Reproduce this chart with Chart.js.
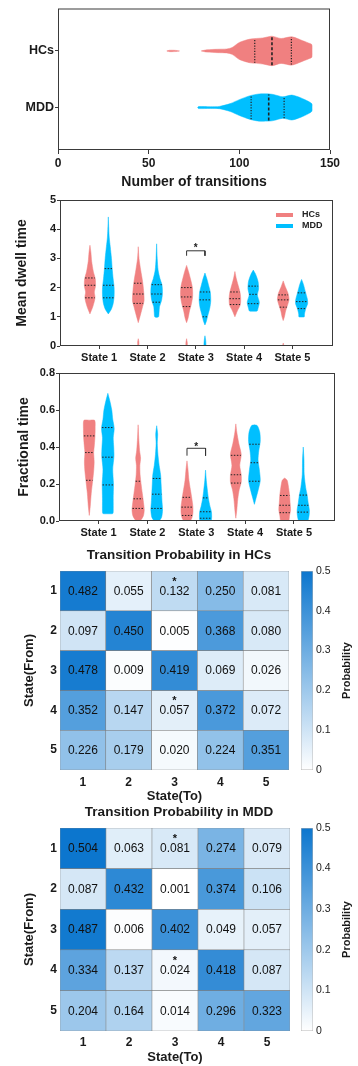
<!DOCTYPE html>
<html>
<head>
<meta charset="utf-8">
<script src="https://cdn.jsdelivr.net/npm/chart.js@4.4.1/dist/chart.umd.min.js"></script>
<style>
    html, body { margin: 0; padding: 0; background: #fff; }
    #wrap { position: relative; width: 358px; height: 1066px; overflow: hidden; }
    canvas { position: absolute; left: 0; }
</style>
</head>
<body>
<div id="wrap">
    <canvas id="transChart" width="358" height="196" style="top:0px"></canvas>
    <canvas id="dwellChart" width="358" height="180" style="top:190px"></canvas>
    <canvas id="fracChart" width="358" height="180" style="top:365px"></canvas>
    <canvas id="hcMap" width="358" height="266" style="top:540px"></canvas>
    <canvas id="hcBar" width="68" height="266" style="top:540px;left:290px"></canvas>
    <canvas id="mddMap" width="358" height="269" style="top:797px"></canvas>
    <canvas id="mddBar" width="68" height="269" style="top:797px;left:290px"></canvas>
</div>
<script>
// ---- data ----
const groupNames = ['HCs', 'MDD'];
const groupColors = ['#F08080', '#00BFFF'];
const stateLabels = ['State 1', 'State 2', 'State 3', 'State 4', 'State 5'];
const stateTicks = [1, 2, 3, 4, 5];

// violin outlines: [value, half width]
const transHC = [[79,0],[82,0.02],[88,0.03],[93,0.035],[96,0.06],[100,0.15],[106,0.21],[113,0.23],[118,0.26],[123,0.22],[129,0.25],[135,0.18],[139,0.13],[140,0.11],[140.1,0]];
const transHCTail = [[60,0],[61.5,0.012],[65,0.01],[67,0]];
const transMDD = [[77,0],[77.5,0.018],[84,0.015],[89,0.02],[95,0.07],[100,0.14],[106,0.21],[111,0.24],[118,0.235],[124,0.19],[129,0.22],[134,0.17],[138,0.11],[140,0.065],[140.1,0]];
const transQuartHC = [108.5, 118, 128.7];
const transQuartMDD = [106.5, 116.2, 124.7];

const dwellHC = [
    [[3.45,0],[3.2,0.02],[2.9,0.035],[2.55,0.07],[2.3,0.11],[2.05,0.115],[1.85,0.09],[1.65,0.105],[1.35,0.06],[1.1,0]],
    [[3.4,0],[3.0,0.015],[2.6,0.05],[2.2,0.09],[1.9,0.11],[1.55,0.12],[1.35,0.09],[1.1,0.05],[0.8,0]],
    [[2.76,0],[2.55,0.04],[2.3,0.08],[2.0,0.12],[1.7,0.125],[1.45,0.1],[1.2,0.06],[0.95,0.03],[0.8,0]],
    [[2.55,0],[2.3,0.03],[2.0,0.08],[1.8,0.11],[1.6,0.12],[1.4,0.11],[1.2,0.05],[1.0,0]],
    [[2.23,0],[2.0,0.05],[1.8,0.1],[1.6,0.12],[1.4,0.09],[1.2,0.05],[1.0,0.025],[0.87,0]]
];
const dwellMDD = [
    [[4.42,0],[4.0,0.01],[3.7,0.02],[3.4,0.04],[3.0,0.065],[2.65,0.08],[2.3,0.1],[2.0,0.12],[1.7,0.12],[1.45,0.1],[1.25,0.06],[1.1,0]],
    [[3.5,0],[3.0,0.012],[2.6,0.03],[2.3,0.07],[2.1,0.11],[1.8,0.12],[1.55,0.1],[1.35,0.06],[1.15,0.05],[1.0,0.04],[0.98,0]],
    [[2.5,0],[2.3,0.04],[2.05,0.08],[1.85,0.11],[1.55,0.12],[1.3,0.1],[1.05,0.06],[0.85,0.03],[0.72,0]],
    [[2.6,0],[2.45,0.05],[2.2,0.1],[1.95,0.11],[1.75,0.085],[1.5,0.125],[1.3,0.1],[1.2,0.08],[1.19,0]],
    [[2.28,0],[2.1,0.04],[1.85,0.08],[1.6,0.12],[1.45,0.125],[1.3,0.09],[1.1,0.06],[1.0,0.055],[0.99,0]]
];
const dwellQuartHC = [[2.33,2.08,1.65],[2.15,1.78,1.46],[2.0,1.68,1.35],[1.85,1.62,1.42],[1.75,1.58,1.33]];
const dwellQuartMDD = [[2.65,2.08,1.65],[2.1,1.78,1.5],[1.85,1.58,1.0],[2.05,1.77,1.45],[1.82,1.52,1.28]];
// detached bits: [group, state, outline]
const dwellTails = [
    [0, 2, [[0.25,0],[0.15,0.012],[0.02,0.012],[-0.02,0]]],
    [0, 3, [[0.25,0],[0.12,0.014],[0.0,0.014],[-0.02,0]]],
    [1, 3, [[0.35,0],[0.2,0.015],[0.0,0.02],[-0.02,0]]],
    [0, 5, [[0.1,0],[0.05,0.008],[0.0,0.008],[-0.02,0]]]
];
const dwellSig = [3, 3.26, 3.09, 3.42]; // state, bracket top, bracket foot, star

const fracHC = [
    [[0.545,0],[0.544,0.11],[0.5,0.12],[0.45,0.115],[0.4,0.1],[0.37,0.09],[0.32,0.1],[0.27,0.09],[0.22,0.07],[0.15,0.04],[0.08,0.02],[0.03,0]],
    [[0.52,0],[0.45,0.012],[0.38,0.03],[0.34,0.05],[0.3,0.035],[0.25,0.04],[0.2,0.06],[0.15,0.085],[0.1,0.11],[0.06,0.125],[0.03,0.11],[0.01,0.07],[-0.01,0]],
    [[0.325,0],[0.28,0.02],[0.22,0.04],[0.17,0.07],[0.12,0.1],[0.08,0.12],[0.04,0.12],[0.01,0.09],[-0.01,0]],
    [[0.525,0],[0.48,0.02],[0.42,0.06],[0.36,0.11],[0.3,0.08],[0.25,0.11],[0.21,0.11],[0.17,0.07],[0.12,0.04],[0.06,0.02],[0.015,0]],
    [[0.232,0],[0.22,0.05],[0.18,0.08],[0.14,0.1],[0.1,0.11],[0.06,0.12],[0.03,0.1],[0.0,0.08],[-0.01,0]]
];
const fracMDD = [
    [[0.69,0],[0.65,0.04],[0.6,0.08],[0.55,0.1],[0.5,0.13],[0.45,0.11],[0.4,0.12],[0.35,0.125],[0.28,0.1],[0.2,0.115],[0.12,0.11],[0.05,0.11],[0.04,0.1],[0.039,0]],
    [[0.515,0],[0.47,0.02],[0.42,0.012],[0.36,0.025],[0.3,0.05],[0.25,0.08],[0.2,0.09],[0.15,0.1],[0.1,0.11],[0.06,0.12],[0.02,0.1],[0,0.05],[-0.01,0]],
    [[0.275,0],[0.22,0.015],[0.16,0.04],[0.12,0.06],[0.08,0.09],[0.05,0.12],[0.02,0.125],[0,0.11],[-0.01,0]],
    [[0.52,0],[0.515,0.06],[0.48,0.11],[0.43,0.12],[0.38,0.09],[0.33,0.075],[0.28,0.1],[0.22,0.12],[0.18,0.09],[0.13,0.04],[0.09,0]],
    [[0.4,0],[0.33,0.015],[0.25,0.02],[0.18,0.05],[0.14,0.08],[0.1,0.1],[0.06,0.125],[0.03,0.12],[0,0.09],[-0.01,0]]
];
const fracQuartHC = [[0.46,0.37,0.22],[0.215,0.12,0.068],[0.128,0.075,0.03],[0.355,0.25,0.205],[0.138,0.085,0.045]];
const fracQuartMDD = [[0.505,0.345,0.195],[0.23,0.145,0.068],[0.125,0.05,0.015],[0.415,0.315,0.215],[0.14,0.085,0.048]];
const fracSig = [3, 0.393, 0.353, 0.41];

const mapLabels = ['1', '2', '3', '4', '5'];
const hcProb = [
    [0.482, 0.055, 0.132, 0.250, 0.081],
    [0.097, 0.450, 0.005, 0.368, 0.080],
    [0.478, 0.009, 0.419, 0.069, 0.026],
    [0.352, 0.147, 0.057, 0.372, 0.072],
    [0.226, 0.179, 0.020, 0.224, 0.351]
];
const mddProb = [
    [0.504, 0.063, 0.081, 0.274, 0.079],
    [0.087, 0.432, 0.001, 0.374, 0.106],
    [0.487, 0.006, 0.402, 0.049, 0.057],
    [0.334, 0.137, 0.024, 0.418, 0.087],
    [0.204, 0.164, 0.014, 0.296, 0.323]
];
const sigCells = [[1, 3], [4, 3]]; // [from, to]
const colorTicks = [0, 0.1, 0.2, 0.3, 0.4, 0.5];

// ---- helpers ----
const groupOffsets = [-0.19, 0.19];
const fontFamily = "'Liberation Sans', Arial, sans-serif";
const lowColor = [255, 255, 255];
const highColor = [12, 118, 206];

Chart.defaults.font.family = fontFamily;
Chart.defaults.color = '#1a1a1a';
Chart.defaults.animation = false;
Chart.defaults.plugins.legend.display = false;
Chart.defaults.plugins.tooltip.enabled = false;

function widthAt(prof, q) {
    for (let i = 0; i < prof.length - 1; i++) {
        const [v0, w0] = prof[i];
        const [v1, w1] = prof[i + 1];
        if (v0 !== v1 && (q - v0) * (q - v1) <= 0) {
            return w0 + (w1 - w0) * (q - v0) / (v1 - v0);
        }
    }
    return 0;
}

function outline(center, prof, horizontal) {
    const sideA = prof.map(([v, w]) => horizontal ? {x: v, y: center + w} : {x: center - w, y: v});
    const sideB = prof.slice().reverse().map(([v, w]) => horizontal ? {x: v, y: center - w} : {x: center + w, y: v});
    return sideA.concat(sideB);
}

function violinSet(points, color) {
    return {
        data: points,
        borderColor: color,
        backgroundColor: color,
        borderWidth: 0.5,
        fill: 'shape',
        pointRadius: 0,
        tension: 0.25,
        order: 2
    };
}

function lineSet(points, dash, width, color) {
    return {
        data: points,
        borderColor: color || '#222',
        borderWidth: width || 1,
        borderDash: dash,
        fill: false,
        pointRadius: 0,
        tension: 0,
        order: 1
    };
}

function buildVertical(profHC, profMDD, quartHC, quartMDD, tails, sig) {
    const sets = [];
    [profHC, profMDD].forEach((profiles, g) => {
        const quarts = g === 0 ? quartHC : quartMDD;
        profiles.forEach((prof, i) => {
            const c = stateTicks[i] + groupOffsets[g];
            sets.push(violinSet(outline(c, prof, false), groupColors[g]));
            quarts[i].forEach(q => {
                const w = widthAt(prof, q) * 0.95;
                sets.push(lineSet([{x: c - w, y: q}, {x: c + w, y: q}], [1.5, 1.5], 1));
            });
        });
    });
    tails.forEach(([g, s, prof]) => {
        sets.push(violinSet(outline(stateTicks[s - 1] + groupOffsets[g], prof, false), groupColors[g]));
    });
    const [s, top, foot] = sig;
    const x1 = s + groupOffsets[0], x2 = s + groupOffsets[1];
    sets.push(lineSet([{x: x1, y: foot}, {x: x1, y: top}, {x: x2, y: top}, {x: x2, y: foot}], [], 1, '#333'));
    return sets;
}

function probColor(v) {
    const t = Math.max(0, Math.min(1, v / 0.5));
    const c = lowColor.map((lo, i) => Math.round(lo + (highColor[i] - lo) * t));
    return `rgb(${c[0]}, ${c[1]}, ${c[2]})`;
}

// box around the plot area
const framePlugin = {
    id: 'frame',
    afterDraw(chart) {
        const {ctx, chartArea: a} = chart;
        ctx.save();
        ctx.strokeStyle = '#3a3a3a';
        ctx.lineWidth = 1;
        ctx.strokeRect(a.left + 0.5, a.top + 0.5, a.right - a.left - 1, a.bottom - a.top - 1);
        ctx.restore();
    }
};

function starPlugin(sig) {
    return {
        id: 'star',
        afterDatasetsDraw(chart) {
            const {ctx, scales} = chart;
            ctx.save();
            ctx.fillStyle = '#222';
            ctx.font = `bold 10px ${fontFamily}`;
            ctx.textAlign = 'center';
            ctx.textBaseline = 'middle';
            ctx.fillText('*', scales.x.getPixelForValue(sig[0]), scales.y.getPixelForValue(sig[3]) + 2);
            ctx.restore();
        }
    };
}

const legendPlugin = {
    id: 'miniLegend',
    afterDraw(chart) {
        const {ctx, chartArea: a} = chart;
        ctx.save();
        ctx.font = `bold 9px ${fontFamily}`;
        ctx.textBaseline = 'middle';
        groupNames.forEach((name, g) => {
            const y = a.top + 15 + g * 11;
            ctx.strokeStyle = groupColors[g];
            ctx.lineWidth = 4;
            ctx.beginPath();
            ctx.moveTo(a.right - 57, y);
            ctx.lineTo(a.right - 40, y);
            ctx.stroke();
            ctx.fillStyle = '#222';
            ctx.fillText(name, a.right - 31, y);
        });
        ctx.restore();
    }
};

function violinOptions(yMin, yMax, yStep, yTitle, yFmt, top, right, left, titlePad) {
    return {
        responsive: false,
        devicePixelRatio: 1,
        layout: { padding: { top: top, right: right, left: 0, bottom: 0 } },
        scales: {
            x: {
                type: 'linear',
                min: 0.19,
                max: 5.84,
                afterBuildTicks: axis => { axis.ticks = stateTicks.map(v => ({ value: v })); },
                afterFit: scale => { scale.height = 24; },
                ticks: {
                    callback: v => stateLabels[v - 1],
                    font: { size: 11, weight: 'bold' },
                    color: '#1a1a1a',
                    maxRotation: 0,
                    autoSkip: false,
                    padding: 2
                },
                grid: { drawOnChartArea: false, tickLength: 3, color: '#3a3a3a' },
                border: { display: false }
            },
            y: {
                min: yMin,
                max: yMax,
                afterFit: scale => { scale.width = left; },
                ticks: {
                    stepSize: yStep,
                    callback: yFmt,
                    font: { size: 11, weight: 'bold' },
                    color: '#1a1a1a',
                    padding: 1
                },
                grid: { drawOnChartArea: false, tickLength: 3, color: '#3a3a3a' },
                border: { display: false },
                title: {
                    display: true,
                    text: yTitle,
                    font: { size: 14, weight: 'bold' },
                    color: '#1a1a1a',
                    padding: { top: titlePad, bottom: 0 }
                }
            }
        }
    };
}

// ---- number of transitions ----
function buildTransitions() {
    const sets = [];
    [[transHC, transQuartHC], [transMDD, transQuartMDD]].forEach(([prof, quarts], g) => {
        const c = 2 - g;
        sets.push(violinSet(outline(c, prof, true), groupColors[g]));
        quarts.forEach((q, k) => {
            const w = widthAt(prof, q) * 0.97;
            const median = k === 1;
            sets.push(lineSet([{x: q, y: c - w}, {x: q, y: c + w}], median ? [3, 2] : [1.2, 1.5], median ? 1.6 : 1.2, '#222'));
        });
    });
    sets.push(violinSet(outline(2, transHCTail, true), groupColors[0]));
    return sets;
}

new Chart(document.getElementById('transChart'), {
    type: 'line',
    data: { datasets: buildTransitions() },
    options: {
        responsive: false,
        devicePixelRatio: 1,
        layout: { padding: { top: 5, right: 28, left: 0, bottom: 0 } },
        scales: {
            x: {
                type: 'linear',
                min: 0,
                max: 150,
                afterFit: scale => { scale.height = 46; },
                ticks: { stepSize: 50, font: { size: 12, weight: 'bold' }, color: '#1a1a1a', padding: 2, maxRotation: 0 },
                grid: { drawOnChartArea: false, tickLength: 4, color: '#3a3a3a' },
                border: { display: false },
                title: {
                    display: true,
                    text: 'Number of transitions',
                    font: { size: 14, weight: 'bold' },
                    color: '#1a1a1a',
                    padding: { top: 0, bottom: 5 }
                }
            },
            y: {
                type: 'linear',
                min: 0.25,
                max: 2.75,
                afterBuildTicks: axis => { axis.ticks = [1, 2].map(v => ({ value: v })); },
                afterFit: scale => { scale.width = 58; },
                ticks: { callback: v => groupNames[2 - v], font: { size: 12.5, weight: 'bold' }, color: '#1a1a1a', padding: 1 },
                grid: { drawOnChartArea: false, tickLength: 3, color: '#3a3a3a' },
                border: { display: false }
            }
        }
    },
    plugins: [framePlugin]
});

// ---- mean dwell time ----
new Chart(document.getElementById('dwellChart'), {
    type: 'line',
    data: { datasets: buildVertical(dwellHC, dwellMDD, dwellQuartHC, dwellQuartMDD, dwellTails, dwellSig) },
    options: violinOptions(0, 5, 1, 'Mean dwell time', v => v, 10, 25, 60, 14),
    plugins: [framePlugin, starPlugin(dwellSig), legendPlugin]
});

// ---- fractional time ----
new Chart(document.getElementById('fracChart'), {
    type: 'line',
    data: { datasets: buildVertical(fracHC, fracMDD, fracQuartHC, fracQuartMDD, [], fracSig) },
    options: violinOptions(0, 0.8, 0.2, 'Fractional time', v => v.toFixed(1), 8, 23, 59, 16),
    plugins: [framePlugin, starPlugin(fracSig)]
});

// ---- transition probability heatmaps ----
function cellTextPlugin(matrix) {
    return {
        id: 'cellText',
        afterDatasetsDraw(chart) {
            const ctx = chart.ctx;
            ctx.save();
            ctx.fillStyle = '#111';
            ctx.textAlign = 'center';
            ctx.textBaseline = 'middle';
            matrix.forEach((row, r) => {
                chart.getDatasetMeta(r).data.forEach((bar, c) => {
                    const cy = (bar.y + bar.base) / 2;
                    ctx.font = `12px ${fontFamily}`;
                    ctx.fillText(row[c].toFixed(3), bar.x, cy + 0.5);
                    if (sigCells.some(([f, t]) => f === r + 1 && t === c + 1)) {
                        ctx.font = `bold 11px ${fontFamily}`;
                        ctx.fillText('*', bar.x, cy - 9);
                    }
                });
            });
            ctx.restore();
        }
    };
}

function heatmap(canvasId, title, matrix, right, xHeight, xPad, titlePadBottom) {
    const datasets = matrix.map((row, r) => ({
        data: row.map(() => [r + 0.5, r + 1.5]),
        backgroundColor: row.map(probColor),
        borderColor: 'rgba(110, 110, 110, 0.8)',
        borderWidth: 0.6,
        borderSkipped: false,
        barPercentage: 1,
        categoryPercentage: 1,
        grouped: false
    }));
    new Chart(document.getElementById(canvasId), {
        type: 'bar',
        data: { labels: mapLabels, datasets: datasets },
        options: {
            responsive: false,
            devicePixelRatio: 1,
            layout: { padding: 0 },
            plugins: {
                title: {
                    display: true,
                    text: title,
                    font: { size: 13.5, weight: 'bold' },
                    color: '#1a1a1a',
                    padding: { top: 7, bottom: 7.8 }
                }
            },
            scales: {
                x: {
                    afterFit: scale => { scale.height = xHeight; },
                    ticks: { font: { size: 12, weight: 'bold' }, color: '#1a1a1a', padding: xPad },
                    grid: { display: false, drawTicks: false },
                    border: { display: false },
                    title: {
                        display: true,
                        text: 'State(To)',
                        font: { size: 13, weight: 'bold' },
                        color: '#1a1a1a',
                        padding: { top: 0, bottom: titlePadBottom }
                    }
                },
                y: {
                    type: 'linear',
                    reverse: true,
                    min: 0.5,
                    max: 5.5,
                    afterBuildTicks: axis => { axis.ticks = stateTicks.map(v => ({ value: v })); },
                    afterFit: scale => { scale.width = 60; },
                    ticks: { callback: v => mapLabels[v - 1], font: { size: 12, weight: 'bold' }, color: '#1a1a1a', padding: 3 },
                    grid: { display: false, drawTicks: false },
                    border: { display: false },
                    title: {
                        display: true,
                        text: 'State(From)',
                        font: { size: 13, weight: 'bold' },
                        color: '#1a1a1a',
                        padding: { top: 22, bottom: 0 }
                    }
                },
                // empty right axis keeps room for the colorbar
                side: {
                    type: 'linear',
                    position: 'right',
                    ticks: { display: false },
                    grid: { display: false, drawTicks: false },
                    border: { display: false },
                    afterFit: scale => { scale.width = right; }
                }
            }
        },
        plugins: [cellTextPlugin(matrix)]
    });
}

const colorbarTitle = {
    id: 'colorbarTitle',
    afterDraw(chart) {
        const {ctx, chartArea: a} = chart;
        ctx.save();
        ctx.translate(57, (a.top + a.bottom) / 2);
        ctx.rotate(-Math.PI / 2);
        ctx.font = `bold 11px ${fontFamily}`;
        ctx.fillStyle = '#1a1a1a';
        ctx.textAlign = 'center';
        ctx.textBaseline = 'middle';
        ctx.fillText('Probability', 0, 0);
        ctx.restore();
    }
};

function colorbarFill(c) {
    const y = c.chart.scales.y;
    const area = c.chart.chartArea;
    if (!y || !area) return probColor(0.25);
    const y0 = y.getPixelForValue(0);
    const y1 = y.getPixelForValue(0.5);
    if (!isFinite(y0) || !isFinite(y1)) return probColor(0.25);
    const g = c.chart.ctx.createLinearGradient(0, y0, 0, y1);
    g.addColorStop(0, probColor(0));
    g.addColorStop(1, probColor(0.5));
    return g;
}

function colorbar(canvasId, left, top, bottom) {
    new Chart(document.getElementById(canvasId), {
        type: 'bar',
        data: {
            labels: [''],
            datasets: [{
                data: [[colorTicks[0], colorTicks[colorTicks.length - 1]]],
                backgroundColor: colorbarFill,
                borderColor: '#b5b5b5',
                borderWidth: 0.8,
                borderSkipped: false,
                barPercentage: 1,
                categoryPercentage: 1
            }]
        },
        options: {
            responsive: false,
            devicePixelRatio: 1,
            layout: { padding: { top: top, right: 0, left: left, bottom: bottom } },
            scales: {
                x: { display: false },
                y: {
                    position: 'right',
                    min: 0,
                    max: 0.5,
                    afterBuildTicks: axis => { axis.ticks = colorTicks.map(v => ({ value: v })); },
                    afterFit: scale => { scale.width = 45; },
                    ticks: { callback: v => v === 0 ? '0' : v.toFixed(1), font: { size: 10.5 }, color: '#1a1a1a', padding: 3 },
                    grid: { display: false, drawTicks: false },
                    border: { display: false }
                }
            }
        },
        plugins: [colorbarTitle]
    });
}

heatmap('hcMap', 'Transition Probability in HCs', hcProb, 69, 36, 5, 2);
colorbar('hcBar', 11, 31, 36);
heatmap('mddMap', 'Transition Probability in MDD', mddProb, 68, 35, 4, 1);
colorbar('mddBar', 11, 31, 35);
</script>
</body>
</html>
